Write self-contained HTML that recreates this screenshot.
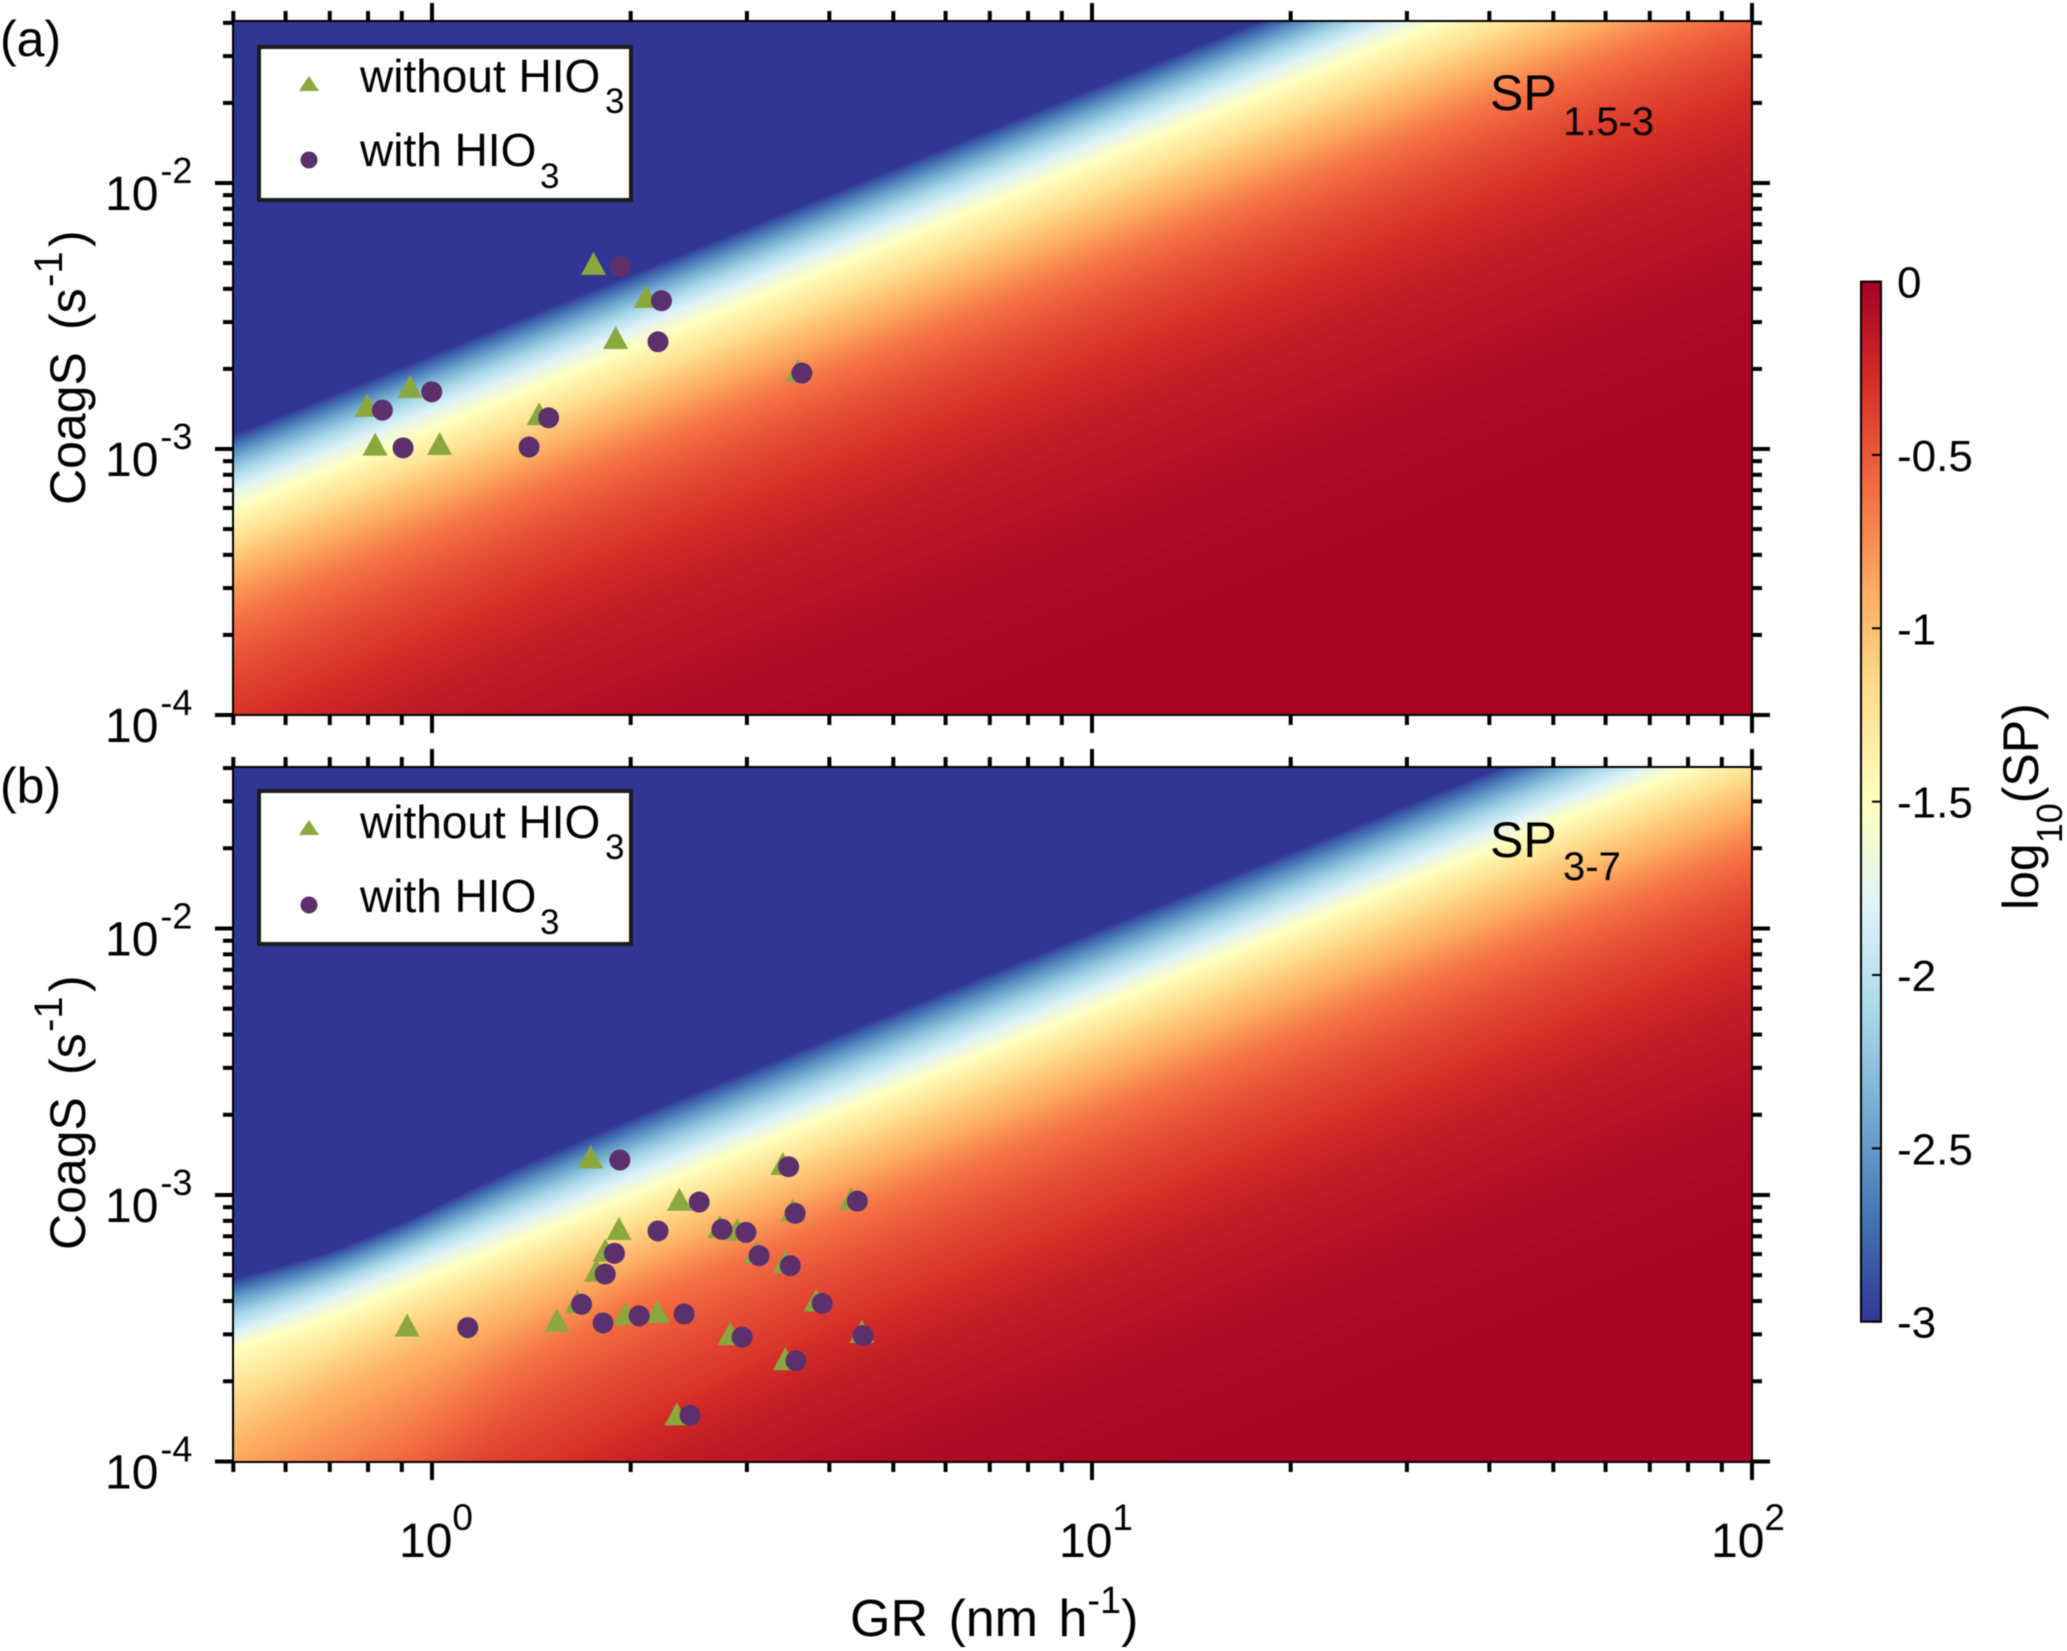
<!DOCTYPE html>
<html lang="en">
<head>
<meta charset="utf-8">
<title>Survival probability versus growth rate and coagulation sink</title>
<style>
  html, body { margin: 0; padding: 0; background: #fff; width: 2067px; height: 1651px; overflow: hidden; }
  svg { display: block; overflow: hidden; font-family: "Liberation Sans", Arial, sans-serif; fill: #000; filter: blur(0.5px); }
</style>
</head>
<body>
<svg id="figure" xmlns="http://www.w3.org/2000/svg" width="2067" height="1651" viewBox="0 0 2067 1651">
  <defs>
    <clipPath id="clip-a"><rect x="233" y="21" width="1519" height="694"/></clipPath>
    <clipPath id="clip-b"><rect x="233" y="767" width="1519" height="695"/></clipPath>
    <linearGradient id="colorbar-gradient" x1="0" y1="0" x2="0" y2="1"></linearGradient>
  </defs>
  <rect x="0" y="0" width="2067" height="1651" fill="#fff"/>
  <g id="panel-a"></g>
  <g id="panel-b"></g>
  <g id="colorbar"></g>

  <text x="0" y="56" font-size="50">(a)</text>
  <text x="0" y="803" font-size="50">(b)</text>

  <text transform="translate(85,505) rotate(-90)" font-size="50">CoagS<tspan x="175">(s</tspan><tspan x="218" y="-23" font-size="40">-1</tspan><tspan x="258" y="0">)</tspan></text>
  <text transform="translate(85,1250) rotate(-90)" font-size="50">CoagS<tspan x="175">(s</tspan><tspan x="218" y="-23" font-size="40">-1</tspan><tspan x="258" y="0">)</tspan></text>
  <text x="850" y="1636" font-size="52" word-spacing="6">GR (nm h<tspan dy="-23" font-size="38">-1</tspan><tspan dy="23">)</tspan></text>

  <g>
    <text x="1490" y="110" font-size="50">SP<tspan x="1563" y="135" font-size="40">1.5-3</tspan></text>
  </g>
  <g>
    <text x="1490" y="857" font-size="50">SP<tspan x="1563" y="880" font-size="40">3-7</tspan></text>
  </g>

  <g>
    <rect x="259" y="47" width="372" height="153" fill="#fff" stroke="#1c1c1c" stroke-width="4"/>
    <path d="M309 76 L319 91 L299 91 Z" fill="#8aa83d"/>
    <text x="360" y="92" font-size="46">without HIO<tspan x="605" y="113" font-size="35">3</tspan></text>
    <ellipse cx="309" cy="160" rx="8.5" ry="8.5" fill="#5c2f6d"/>
    <text x="360" y="166" font-size="46">with HIO<tspan x="540" y="188" font-size="35">3</tspan></text>
  </g>
  <g>
    <rect x="259" y="791" width="372" height="153" fill="#fff" stroke="#1c1c1c" stroke-width="4"/>
    <path d="M309 820 L319 835 L299 835 Z" fill="#8aa83d"/>
    <text x="360" y="838" font-size="46">without HIO<tspan x="605" y="859" font-size="35">3</tspan></text>
    <ellipse cx="309" cy="905" rx="8.5" ry="8.5" fill="#5c2f6d"/>
    <text x="360" y="912" font-size="46">with HIO<tspan x="540" y="934" font-size="35">3</tspan></text>
  </g>

  <text transform="translate(2038,910) rotate(-90)" font-size="50">log<tspan dy="24" font-size="36">10</tspan><tspan dy="-24">(SP)</tspan></text>
</svg>

<script>
// ---- Scatter data, panel (a): growth rate (nm/h) and coagulation sink (1/s) ----
const panelAGrWithout = [1.757, 2.112, 1.898, 0.926, 0.797, 0.820, 1.027, 1.453, 3.585];
const panelACoagWithout = [4.92e-3, 3.70e-3, 2.59e-3, 1.696e-3, 1.44e-3, 1.03e-3, 1.035e-3, 1.34e-3, 1.95e-3];
const panelAGrWith = [1.93, 2.227, 2.20, 0.999, 0.841, 0.904, 1.403, 1.502, 3.634];
const panelACoagWith = [4.85e-3, 3.61e-3, 2.53e-3, 1.64e-3, 1.40e-3, 1.01e-3, 1.017e-3, 1.31e-3, 1.93e-3];

// ---- Scatter data, panel (b) ----
const panelBGrWithout = [1.739, 3.40, 2.37, 4.32, 1.92, 3.52, 2.73, 2.90, 1.83, 1.775, 3.10, 3.43, 1.66, 0.917, 1.547, 1.964, 2.195, 2.83, 3.82, 4.48, 3.43, 2.35];
const panelBCoagWithout = [1.373e-3, 1.296e-3, 9.52e-4, 9.58e-4, 7.39e-4, 8.66e-4, 7.52e-4, 7.34e-4, 6.13e-4, 5.15e-4, 6.01e-4, 5.56e-4, 3.93e-4, 3.21e-4, 3.35e-4, 3.55e-4, 3.61e-4, 2.98e-4, 3.98e-4, 3.04e-4, 2.40e-4, 1.49e-4];
const panelBGrWith = [1.926, 3.47, 2.54, 4.41, 2.20, 3.55, 2.75, 2.99, 1.89, 1.83, 3.13, 3.49, 1.685, 1.133, 1.816, 2.06, 2.41, 2.95, 3.90, 4.50, 3.56, 2.46];
const panelBCoagWith = [1.353e-3, 1.277e-3, 9.41e-4, 9.49e-4, 7.33e-4, 8.54e-4, 7.43e-4, 7.24e-4, 6.04e-4, 5.05e-4, 5.92e-4, 5.43e-4, 3.89e-4, 3.18e-4, 3.31e-4, 3.52e-4, 3.58e-4, 2.93e-4, 3.92e-4, 2.97e-4, 2.39e-4, 1.49e-4];

// ---- Heatmap field: contour levels of log10(SP) ----
const contourLevels = [-3, -2.4, -1.8, -1.5, -1.2, -0.9, -0.6, -0.3, -0.1, -0.02];
// CoagS/GR ratio along each contour
const panelARatios = [2.29e-3, 1.85e-3, 1.42e-3, 1.20e-3, 9.2e-4, 6.8e-4, 4.7e-4, 2.3e-4, 7.0e-5, 1.4e-5];
const panelBRatios = [9.8e-4, 7.8e-4, 5.87e-4, 5.0e-4, 3.9e-4, 2.8e-4, 1.9e-4, 9.0e-5, 3.0e-5, 6.0e-6];
// Departure from the straight contour at low GR: one row per contour level
const panelAGrKnots = [0.5, 1.5, 100];
const panelAContourShift = [[1, 1, 1], [1, 1, 1], [1, 1, 1], [1, 1, 1], [1, 1, 1], [1, 1, 1], [0.95, 1, 1], [0.85, 0.97, 1], [0.9, 1, 1], [1, 1, 1]];
const panelBGrKnots = [0.5, 0.7, 0.9, 1.3, 2, 4, 100];
const panelBContourShift = [
  [1.00, 0.90, 0.90, 0.97, 1.00, 1, 1],
  [1.02, 0.94, 0.94, 0.98, 1.00, 1, 1],
  [1.03, 1.00, 1.00, 1.00, 1.00, 1, 1],
  [1.07, 1.00, 1.00, 1.00, 1.00, 1, 1],
  [0.95, 0.96, 1.00, 1.00, 1.00, 1, 1],
  [0.78, 0.88, 0.92, 0.95, 1.00, 1, 1],
  [0.58, 0.58, 0.65, 0.86, 1.00, 1, 1],
  [0.55, 0.55, 0.58, 0.70, 0.78, 0.90, 1],
  [0.70, 0.70, 0.70, 0.75, 0.85, 0.95, 1],
  [1.00, 1.00, 1.00, 1.00, 1.00, 1.00, 1]
];

// ---- Colormap (log10(SP) from -3 to 0) and tick labels ----
const colormapValues = [-3, -2.7, -2.4, -2.1, -1.8, -1.5, -1.2, -0.9, -0.6, -0.3, 0];
const colormapColors = ['#313695', '#4575b4', '#74add1', '#abd9e9', '#e0f3f8', '#ffffbf', '#fee090', '#fdae61', '#f46d43', '#d73027', '#a50026'];
const colorbarTicks = [0, -0.5, -1, -1.5, -2, -2.5, -3];
const xTickExponents = [0, 1, 2];
const yTickExponents = [-2, -3, -4];
const tickMantissas = [1, 2, 3, 4, 5, 6, 7, 8, 9];
const xDecades = [-1, 0, 1];
const yDecades = [-4, -3, -2];

// ---- Axis functions ----
const SVGNS = 'http://www.w3.org/2000/svg';
const X_LEFT = 233, X_RIGHT = 1752;
function xScale(gr) { return 432 + 660 * Math.log10(gr); }
function yScaleA(c) { return 449 + 266 * (-3 - Math.log10(c)); }
function yScaleB(c) { return 1195 + 266.5 * (-3 - Math.log10(c)); }
function cbScale(v) { return 281.6 - 346.7 * v; }

function make(tag, parent, attrs) {
  const el = document.createElementNS(SVGNS, tag);
  for (const k in attrs) el.setAttribute(k, attrs[k]);
  parent.appendChild(el);
  return el;
}
function colorAt(v) {
  let i = 0;
  while (i < colormapValues.length - 2 && v > colormapValues[i + 1]) i++;
  const t = Math.min(1, Math.max(0, (v - colormapValues[i]) / (colormapValues[i + 1] - colormapValues[i])));
  const a = colormapColors[i], b = colormapColors[i + 1];
  const ch = function (o) {
    const p = parseInt(a.substr(o, 2), 16), q = parseInt(b.substr(o, 2), 16);
    return Math.round(p + (q - p) * t);
  };
  return 'rgb(' + ch(1) + ',' + ch(3) + ',' + ch(5) + ')';
}
function lerpKnots(xs, ys, x) {
  let i = 0;
  while (i < xs.length - 2 && x > xs[i + 1]) i++;
  const t = (x - xs[i]) / (xs[i + 1] - xs[i]);
  return ys[i] + (ys[i + 1] - ys[i]) * t;
}
function contourCoag(cfg, segment, t, gr) {
  const logKnots = cfg.grKnots.map(Math.log10);
  const lg = Math.log10(gr);
  const rowShift = function (r) {
    return lerpKnots(logKnots, cfg.shift[r].map(Math.log10), lg);
  };
  const ratio = cfg.ratios[segment] * (1 - t) + cfg.ratios[segment + 1] * t;
  const ls = rowShift(segment) * (1 - t) + rowShift(segment + 1) * t;
  return Math.pow(10, lg + Math.log10(ratio) + ls);
}

function drawPanel(cfg) {
  const root = document.getElementById(cfg.id);
  const field = make('g', root, { 'clip-path': 'url(#' + cfg.clip + ')' });
  
  
  const base = make('rect', field, { x: X_LEFT, y: cfg.top, width: X_RIGHT - X_LEFT, height: cfg.bottom - cfg.top, fill: colorAt(contourLevels[0]) });
  
  

  // Filled contour bands, painted from the lowest level to the highest
  const SUB = 12, SAMPLES = 70;
  const floorY = cfg.bottom + 2;
  const ceilY = cfg.top - 2;
  for (let s = 0; s < contourLevels.length - 1; s++) {
    for (let k = 0; k < SUB; k++) {
      const t = k / SUB;
      const level = contourLevels[s] + (contourLevels[s + 1] - contourLevels[s]) * t;
      const pts = [];
      for (let n = 0; n <= SAMPLES; n++) {
        const gr = 0.5 * Math.pow(200, n / SAMPLES);
        const c = contourCoag(cfg, s, t, gr);
        const y = Math.max(ceilY, Math.min(floorY, cfg.yScale(c)));
        pts.push(xScale(gr).toFixed(1) + ',' + y.toFixed(1));
      }
      pts.push(X_RIGHT + ',' + floorY);
      pts.push(X_LEFT + ',' + floorY);
      const band = make('polygon', field, { points: pts.join(' '), fill: colorAt(level) });
      
      
    }
  }

  // Plot frame
  const frame = make('rect', root, { x: X_LEFT, y: cfg.top, width: X_RIGHT - X_LEFT, height: cfg.bottom - cfg.top, fill: 'none', stroke: '#000', 'stroke-width': 2 });
  
  

  // X ticks, top and bottom
  const ticks = make('g', root, { stroke: '#000', 'stroke-width': 4 });
  
  
  xDecades.concat([2]).forEach(function (d) {
    tickMantissas.forEach(function (m) {
      const v = m * Math.pow(10, d);
      if (v < 0.5 - 1e-9 || v > 100 + 1e-9) return;
      const len = m === 1 ? 18 : 10;
      const x = xScale(v);
      const top = make('line', ticks, { x1: x, x2: x, y1: cfg.top, y2: cfg.top - len });
      
      
      const bot = make('line', ticks, { x1: x, x2: x, y1: cfg.bottom, y2: cfg.bottom + len });
      
      
    });
  });
  // Y ticks, left and right
  yDecades.forEach(function (d) {
    tickMantissas.forEach(function (m) {
      const v = m * Math.pow(10, d);
      if (v > 0.04 + 1e-9) return;
      const len = m === 1 ? 18 : 10;
      const y = cfg.yScale(v);
      const left = make('line', ticks, { x1: X_LEFT, x2: X_LEFT - len, y1: y, y2: y });
      
      
      const right = make('line', ticks, { x1: X_RIGHT, x2: X_RIGHT + len, y1: y, y2: y });
      
      
    });
  });

  // Y tick labels
  yTickExponents.forEach(function (e) {
    const y = cfg.yScale(Math.pow(10, e));
    const label = make('text', root, { x: 105, y: y + 27, 'font-size': 48 });
    
    
    label.textContent = '10';
    const sup = make('tspan', label, { dx: 2, dy: -27, 'font-size': 36 });
    sup.textContent = String(e);
  });

  // Markers: triangles underneath, circles on top
  cfg.grWithout.forEach(function (gr, i) {
    const x = xScale(gr), y = cfg.yScale(cfg.coagWithout[i]);
    const tri = make('path', root, {
      d: 'M' + x + ' ' + (y - 13) + ' L' + (x + 12.5) + ' ' + (y + 10) + ' L' + (x - 12.5) + ' ' + (y + 10) + ' Z',
      fill: '#8aa83d'
    });
    
    
  });
  cfg.grWith.forEach(function (gr, i) {
    const dot = make('circle', root, { cx: xScale(gr), cy: cfg.yScale(cfg.coagWith[i]), r: 10.5, fill: '#5c2f6d' });
    
    
  });
}

drawPanel({
  id: 'panel-a', clip: 'clip-a', top: 21, bottom: 715, yScale: yScaleA,
  ratios: panelARatios, grKnots: panelAGrKnots, shift: panelAContourShift,
  grWithout: panelAGrWithout, coagWithout: panelACoagWithout,
  grWith: panelAGrWith, coagWith: panelACoagWith
});
drawPanel({
  id: 'panel-b', clip: 'clip-b', top: 767, bottom: 1462, yScale: yScaleB,
  ratios: panelBRatios, grKnots: panelBGrKnots, shift: panelBContourShift,
  grWithout: panelBGrWithout, coagWithout: panelBCoagWithout,
  grWith: panelBGrWith, coagWith: panelBCoagWith
});

// X tick labels under panel (b)
const figure = document.getElementById('figure');
xTickExponents.forEach(function (e) {
  const x = xScale(Math.pow(10, e));
  const label = make('text', figure, { x: x - (e === 2 ? 41 : 33), y: 1557, 'font-size': 48 });
  
  
  label.textContent = '10';
  const sup = make('tspan', label, { dy: -27, 'font-size': 37 });
  sup.textContent = String(e);
});

// Colorbar
const gradient = document.getElementById('colorbar-gradient');
colormapValues.slice().reverse().forEach(function (v) {
  make('stop', gradient, { offset: (-v / 3).toFixed(3), 'stop-color': colorAt(v) });
});
const cb = document.getElementById('colorbar');
const cbBar = make('rect', cb, { x: 1861, y: cbScale(0), width: 20, height: cbScale(-3) - cbScale(0), fill: 'url(#colorbar-gradient)', stroke: '#000', 'stroke-width': 2 });


colorbarTicks.forEach(function (v) {
  const y = cbScale(v);
  const tick = make('line', cb, { x1: 1872, x2: 1881, y1: y, y2: y, stroke: '#000', 'stroke-width': 2 });
  
  
  const label = make('text', cb, { x: 1897, y: y + 16, 'font-size': 44 });
  
  
  label.textContent = String(v);
});
</script>
</body>
</html>
